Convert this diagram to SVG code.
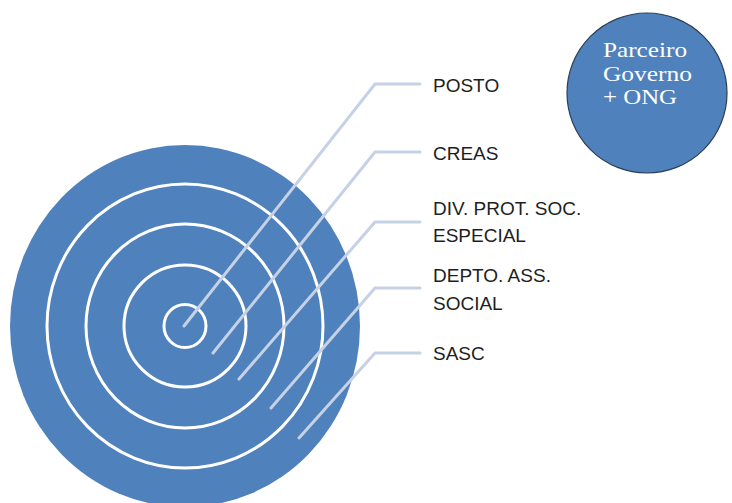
<svg xmlns="http://www.w3.org/2000/svg" width="732" height="503" viewBox="0 0 732 503">
<style>
.ring{fill:none;stroke:#ffffff;stroke-width:3}
.lead{fill:none;stroke:#c5d2e5;stroke-width:3;stroke-linecap:round;stroke-linejoin:round}
.lbl{font-family:"Liberation Sans",Arial,sans-serif;font-size:19px;fill:#1e1e1e}
.ct{font-family:"Liberation Serif","Times New Roman",serif;font-size:22px;fill:#ffffff}
</style>
<rect width="732" height="503" fill="#ffffff"/>
<g id="target">
<ellipse cx="185" cy="326" rx="175" ry="181" fill="#4f81bd"/>
<ellipse class="ring" cx="185" cy="326" rx="138" ry="142"/>
<ellipse class="ring" cx="185" cy="326" rx="99" ry="102"/>
<ellipse class="ring" cx="185" cy="326" rx="61" ry="61"/>
<ellipse class="ring" cx="185" cy="326" rx="21" ry="21.5"/>
</g>
<g id="connectors">
<polyline class="lead" points="184,326 375,84 420,84"/>
<polyline class="lead" points="213,353 375,152 420,152"/>
<polyline class="lead" points="239,379 375,222 420,222"/>
<polyline class="lead" points="271,408 375,288 420,288"/>
<polyline class="lead" points="299,438 375,353 420,353"/>
</g>
<g id="posto"><text class="lbl" x="433" y="92">POSTO</text></g>
<g id="creas"><text class="lbl" x="433" y="160">CREAS</text></g>
<g id="div"><text class="lbl" x="433" y="215">DIV. PROT. SOC.</text><text class="lbl" x="433" y="242">ESPECIAL</text></g>
<g id="depto"><text class="lbl" x="433" y="282">DEPTO. ASS.</text><text class="lbl" x="433" y="310">SOCIAL</text></g>
<g id="sasc"><text class="lbl" x="433" y="360">SASC</text></g>
<g id="parceiro">
<circle cx="647" cy="93" r="80" fill="#4f81bd" stroke="#2c3e55" stroke-width="1.2"/>
<text class="ct" x="603" y="57" textLength="84" lengthAdjust="spacingAndGlyphs">Parceiro</text>
<text class="ct" x="603" y="81" textLength="89" lengthAdjust="spacingAndGlyphs">Governo</text>
<text class="ct" x="603" y="104" textLength="74" lengthAdjust="spacingAndGlyphs">+ ONG</text>
</g>
</svg>
